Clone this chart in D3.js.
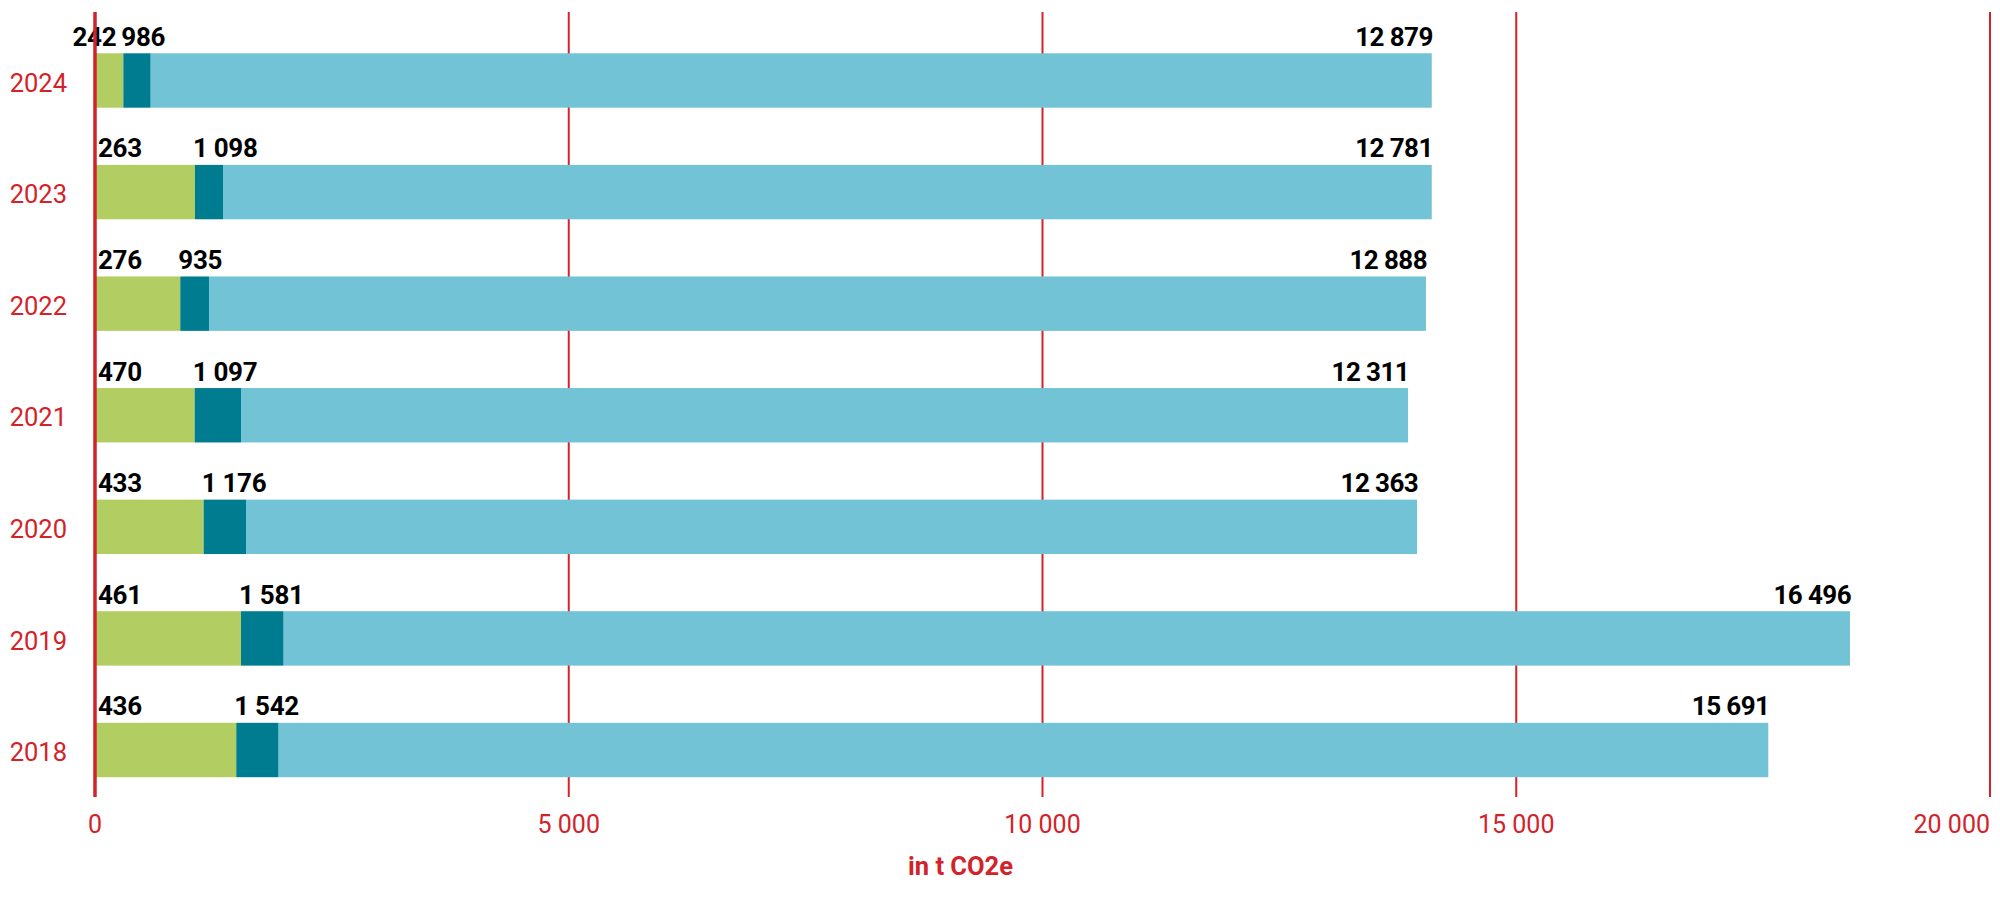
<!DOCTYPE html>
<html>
<head>
<meta charset="utf-8">
<script src="https://cdn.jsdelivr.net/npm/d3@7"></script>
<style>
  html, body { margin: 0; padding: 0; background: #ffffff; }
  svg { display: block; }
</style>
</head>
<body>
<svg id="chart" width="2000" height="907"></svg>
<script>
// ---- data ----
const years = ["2024", "2023", "2022", "2021", "2020", "2019", "2018"];
// drawn segment lengths (t CO2e), measured from the bars
const greenSeg = [299, 1055, 900, 1052, 1147, 1541, 1491];
const darkSeg  = [289, 296, 303, 489, 447, 450, 447];
const lightSeg = [13520, 12757, 12844, 12317, 12359, 16531, 15722];
// printed value labels
const labelFirst  = ["242", "263", "276", "470", "433", "461", "436"];
const labelSecond = ["986", "1 098", "935", "1 097", "1 176", "1 581", "1 542"];
const labelThird  = ["12 879", "12 781", "12 888", "12 311", "12 363", "16 496", "15 691"];
const xTicks = [0, 5000, 10000, 15000, 20000];
const xTickLabels = ["0", "5 000", "10 000", "15 000", "20 000"];
const axisTitle = "in t CO2e";

// ---- styles ----
const RED = "#d2232a";
const GREEN = "#b2ce62";
const DARK = "#007c91";
const LIGHT = "#71c3d5";
const FONT = "Roboto, 'Open Sans', sans-serif";

const svg = d3.select("#chart");

const x = d3.scaleLinear().domain([0, 20000]).range([95, 1990]);
const y = d3.scaleBand().domain(years).range([-2.5, 833]).paddingInner(0.5125).paddingOuter(0.5);

const gridTop = 12, gridBottom = 797;

// gridlines
svg.append("g").selectAll("line")
  .data(xTicks.filter(d => d > 0))
  .join("line")
  .attr("x1", d => x(d)).attr("x2", d => x(d))
  .attr("y1", gridTop).attr("y2", gridBottom)
  .attr("stroke", RED).attr("stroke-width", 2);

// bars
const rows = years.map((yr, i) => ({
  year: yr,
  segs: [
    { x0: 0, x1: greenSeg[i], color: GREEN },
    { x0: greenSeg[i], x1: greenSeg[i] + darkSeg[i], color: DARK },
    { x0: greenSeg[i] + darkSeg[i], x1: greenSeg[i] + darkSeg[i] + lightSeg[i], color: LIGHT }
  ],
  l1: labelFirst[i], l2: labelSecond[i], l3: labelThird[i]
}));

const rowG = svg.append("g").selectAll("g")
  .data(rows).join("g");

rowG.selectAll("rect")
  .data(d => d.segs.map(s => ({ ...s, year: d.year })))
  .join("rect")
  .attr("x", s => x(s.x0))
  .attr("width", s => x(s.x1) - x(s.x0))
  .attr("y", s => y(s.year))
  .attr("height", y.bandwidth())
  .attr("fill", s => s.color);

// axis line (vertical at 0)
svg.append("line")
  .attr("x1", x(0)).attr("x2", x(0))
  .attr("y1", gridTop).attr("y2", gridBottom)
  .attr("stroke", RED).attr("stroke-width", 3.5);

// year labels
svg.append("g").selectAll("text")
  .data(years).join("text")
  .attr("x", 67)
  .attr("y", d => y(d) + y.bandwidth() / 2 + 2)
  .attr("dy", "0.36em")
  .attr("text-anchor", "end")
  .attr("font-family", FONT)
  .attr("font-size", 25.5)
  .attr("fill", RED)
  .text(d => d);

// value labels
const labelSize = 26;
rowG.each(function (d) {
  const g = d3.select(this);
  const base = y(d.year) - 7.5;
  const secondX = x(d.segs[0].x1) - 2;
  g.append("text")
    .attr("x", secondX).attr("y", base)
    .attr("font-family", FONT).attr("font-weight", 700)
    .attr("font-size", labelSize).attr("fill", "#000")
    .attr("letter-spacing", -0.3)
    .text(d.l2);
  const t1 = g.append("text")
    .attr("y", base)
    .attr("font-family", FONT).attr("font-weight", 700)
    .attr("font-size", labelSize).attr("fill", "#000")
    .attr("letter-spacing", -0.3)
    .text(d.l1);
  const w1 = t1.node().getComputedTextLength();
  t1.attr("x", Math.min(x(0) + 3, secondX - 5 - w1));
  g.append("text")
    .attr("x", x(d.segs[2].x1) + 1).attr("y", base)
    .attr("text-anchor", "end")
    .attr("font-family", FONT).attr("font-weight", 700)
    .attr("font-size", labelSize).attr("fill", "#000")
    .attr("letter-spacing", -0.6)
    .text(d.l3);
});

// x tick labels
svg.append("g").selectAll("text")
  .data(xTicks).join("text")
  .attr("x", d => x(d))
  .attr("y", 833)
  .attr("text-anchor", (d, i) => i === xTicks.length - 1 ? "end" : "middle")
  .attr("font-family", FONT)
  .attr("font-size", 25)
  .attr("fill", RED)
  .text((d, i) => xTickLabels[i]);

// axis title
svg.append("text")
  .attr("x", 908).attr("y", 875)
  .attr("font-family", FONT).attr("font-weight", 700)
  .attr("font-size", 25.5)
  .attr("fill", RED)
  .text(axisTitle);
</script>
</body>
</html>
